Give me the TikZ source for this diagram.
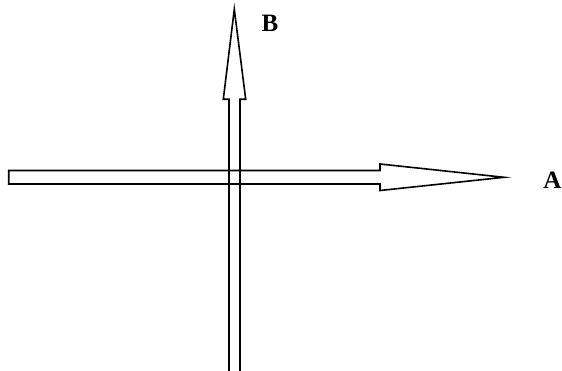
\documentclass[tikz,border=0pt]{standalone}
\usepackage{fontspec}
\setmainfont{Liberation Serif}
\begin{document}
\begin{tikzpicture}[x=1pt,y=-1pt,
  arrowshape/.style={draw=black,line width=1.6pt,line join=miter},
  lbl/.style={inner sep=0pt,font=\bfseries\fontsize{25}{25}\selectfont}]
\useasboundingbox (0,0) rectangle (562,371);
\begin{scope}
\clip (0,0) rectangle (562,371);
% horizontal arrow A
\draw[arrowshape] (8.7,170.5) -- (380,170.5) -- (380,164) -- (504,177.3) -- (380,190.5) -- (380,184) -- (8.7,184) -- cycle;
% vertical arrow B
\draw[arrowshape] (229,380) -- (229,99.3) -- (223.3,99.3) -- (234.3,9.3) -- (245.7,99.3) -- (240,99.3) -- (240,380);
\end{scope}
\node[lbl,anchor=base west] (A) at (543.2,189) {A};
\node[lbl,anchor=base west] (B) at (261.5,31.7) {B};
\end{tikzpicture}
\end{document}
